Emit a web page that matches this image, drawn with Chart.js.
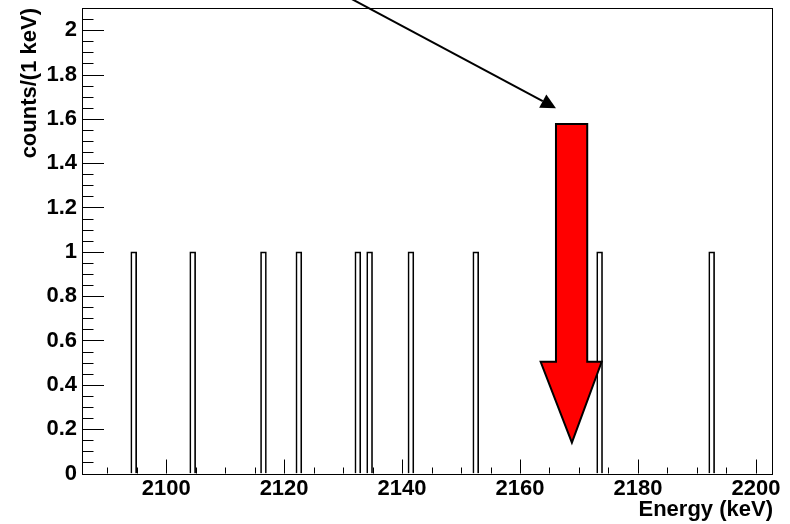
<!DOCTYPE html>
<html><head><meta charset="utf-8">
<script src="https://cdn.jsdelivr.net/npm/chart.js@4"></script>
<style>html,body{margin:0;padding:0;background:#fff;} #wrap{width:790px;height:524px;}</style>
</head><body><div id="wrap"><canvas id="c" width="790" height="524"></canvas></div>
<script>
// ---- data ----
const binLow = [2094, 2104, 2116, 2122, 2132, 2134, 2141, 2152, 2173, 2192];
const binCounts = [1, 1, 1, 1, 1, 1, 1, 1, 1, 1];
const binWidth = 1;
const xRange = [2085.9, 2202.9];
const yRange = [0, 2.1];
const xTickValues = [2100, 2120, 2140, 2160, 2180, 2200];
const xTickLabels = ['2100', '2120', '2140', '2160', '2180', '2200'];
const yTickValues = [0, 0.2, 0.4, 0.6, 0.8, 1, 1.2, 1.4, 1.6, 1.8, 2];
const yTickLabels = ['0', '0.2', '0.4', '0.6', '0.8', '1', '1.2', '1.4', '1.6', '1.8', '2'];
const xMinorStep = 5;
const yMinorStep = 0.05;
const xTitle = 'Energy (keV)';
const yTitle = 'counts/(1 keV)';
// annotations in data units
const redShaft = [2166.1, 2171.4];      // x left/right of shaft
const redShaftTop = 1.577;
const redHeadBase = 0.504;
const redHead = [2163.5, 2173.85];      // x left/right of head
const redTip = [2168.8, 0.139];
const blackArrowFrom = [2131.5, 2.14];
const blackArrowTo = [2166.1, 1.648];

const FONT = "'Liberation Sans', Arial, Helvetica, sans-serif";
Chart.defaults.font.family = FONT;
Chart.defaults.color = '#000';

const decor = {
  id: 'decor',
  afterLayout(chart) {
    const xs = chart.scales.x;
    chart.data.datasets[0].barThickness =
      Math.abs(xs.getPixelForValue(xRange[0] + binWidth) - xs.getPixelForValue(xRange[0]));
  },
  afterDraw(chart) {
    const {ctx, chartArea: a, scales: {x, y}} = chart;
    ctx.save();
    ctx.strokeStyle = '#000';
    ctx.lineWidth = 1;
    ctx.beginPath();
    // x ticks (inside)
    for (let v = Math.ceil(xRange[0] / xMinorStep) * xMinorStep; v <= xRange[1] + 1e-9; v += xMinorStep) {
      const major = xTickValues.some(t => Math.abs(t - v) < 1e-6);
      const px = Math.round(x.getPixelForValue(v)) + 0.5;
      ctx.moveTo(px, a.bottom);
      ctx.lineTo(px, a.bottom - (major ? 14 : 6));
    }
    // y ticks (inside)
    for (let k = 0; yRange[0] + k * yMinorStep <= yRange[1] + 1e-9; k++) {
      const v = yRange[0] + k * yMinorStep;
      const major = yTickValues.some(t => Math.abs(t - v) < 1e-6);
      const py = Math.round(y.getPixelForValue(v)) + 0.5;
      ctx.moveTo(a.left, py);
      ctx.lineTo(a.left + (major ? 21 : 10.5), py);
    }
    ctx.stroke();
    // frame
    ctx.strokeRect(Math.round(a.left) - 0.5, Math.round(a.top) + 0.5,
                   Math.round(a.right) - Math.round(a.left), Math.round(a.bottom) - Math.round(a.top));

    // red arrow
    const X = v => x.getPixelForValue(v), Y = v => y.getPixelForValue(v);
    ctx.beginPath();
    ctx.moveTo(X(redShaft[0]), Y(redShaftTop));
    ctx.lineTo(X(redShaft[1]), Y(redShaftTop));
    ctx.lineTo(X(redShaft[1]), Y(redHeadBase));
    ctx.lineTo(X(redHead[1]), Y(redHeadBase));
    ctx.lineTo(X(redTip[0]), Y(redTip[1]));
    ctx.lineTo(X(redHead[0]), Y(redHeadBase));
    ctx.lineTo(X(redShaft[0]), Y(redHeadBase));
    ctx.closePath();
    ctx.fillStyle = '#ff0000';
    ctx.fill();
    ctx.lineWidth = 2;
    ctx.lineJoin = 'miter';
    ctx.strokeStyle = '#000';
    ctx.stroke();

    // black arrow
    const p0 = [X(blackArrowFrom[0]), Y(blackArrowFrom[1])];
    const p1 = [X(blackArrowTo[0]), Y(blackArrowTo[1])];
    const dx = p1[0] - p0[0], dy = p1[1] - p0[1];
    const len = Math.hypot(dx, dy);
    const ux = dx / len, uy = dy / len;
    const L = 15, W = 7.6;
    const bx = p1[0] - ux * L, by = p1[1] - uy * L;
    ctx.beginPath();
    ctx.moveTo(p0[0], p0[1]);
    ctx.lineTo(bx, by);
    ctx.lineWidth = 2;
    ctx.stroke();
    ctx.beginPath();
    ctx.moveTo(p1[0], p1[1]);
    ctx.lineTo(bx - uy * W, by + ux * W);
    ctx.lineTo(bx + uy * W, by - ux * W);
    ctx.closePath();
    ctx.fillStyle = '#000';
    ctx.fill();
    ctx.restore();
  }
};

new Chart(document.getElementById('c'), {
  type: 'bar',
  data: {
    datasets: [{
      label: 'counts',
      data: binLow.map((lo, i) => ({x: lo + binWidth / 2, y: binCounts[i]})),
      backgroundColor: 'rgba(255,255,255,0)',
      borderColor: '#000',
      borderWidth: 1,
      borderSkipped: 'start'
    }]
  },
  plugins: [decor],
  options: {
    responsive: false,
    animation: false,
    devicePixelRatio: 1,
    layout: {autoPadding: false, padding: {left: 0, right: 17, top: 8, bottom: 0}},
    plugins: {legend: {display: false}, tooltip: {enabled: false}},
    scales: {
      x: {
        type: 'linear',
        min: xRange[0], max: xRange[1],
        offset: false,
        grid: {display: false, drawTicks: false},
        border: {display: false},
        afterBuildTicks: s => { s.ticks = xTickValues.map(v => ({value: v})); },
        afterFit: s => { s.height = 50.5; s.paddingLeft = 0; s.paddingRight = 0; },
        ticks: {
          autoSkip: false, maxRotation: 0, padding: 2,
          font: {size: 22, weight: 'bold'}, color: '#000',
          callback: (v, i) => xTickLabels[i]
        },
        title: {
          display: true, text: xTitle, align: 'end', color: '#000',
          font: {size: 22, weight: 'bold'}, padding: {top: 0, bottom: 1}
        }
      },
      y: {
        type: 'linear',
        min: yRange[0], max: yRange[1],
        grid: {display: false, drawTicks: false},
        border: {display: false},
        afterBuildTicks: s => { s.ticks = yTickValues.map(v => ({value: v})); },
        afterFit: s => { s.width = 83; s.paddingTop = 0; s.paddingBottom = 0; },
        ticks: {
          autoSkip: false, padding: 6,
          font: {size: 22, weight: 'bold'}, color: '#000',
          callback: (v, i) => yTickLabels[i]
        },
        title: {
          display: true, text: yTitle, align: 'end', color: '#000',
          font: {size: 22, weight: 'bold'}, padding: {top: 17, bottom: 0}
        }
      }
    }
  }
});
</script></body></html>
